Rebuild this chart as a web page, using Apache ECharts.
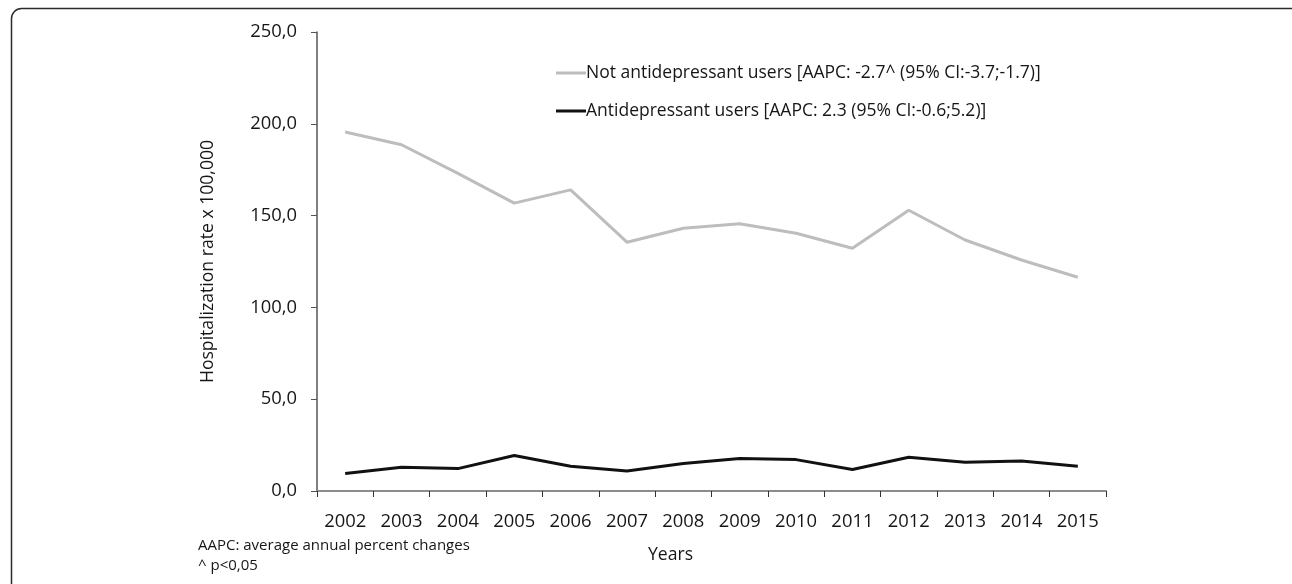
<!DOCTYPE html>
<html>
<head>
<meta charset="utf-8">
<script src="https://cdn.jsdelivr.net/npm/echarts@6/dist/echarts.min.js"></script>
<style>
  html, body { margin: 0; padding: 0; background: #fff; }
  #chart { width: 1292px; height: 584px; }
</style>
</head>
<body>
<div id="chart"></div>
<script>
// Hospitalization rates per 100,000, by year and antidepressant use
const years = ['2002', '2003', '2004', '2005', '2006', '2007', '2008',
               '2009', '2010', '2011', '2012', '2013', '2014', '2015'];
const notUsers = [195.5, 188.6, 173.0, 156.8, 164.0, 135.5, 143.1,
                  145.6, 140.4, 132.2, 152.9, 136.7, 125.8, 116.4];
const users = [9.5, 12.9, 12.2, 19.3, 13.5, 10.9, 15.0,
               17.7, 17.1, 11.7, 18.4, 15.7, 16.4, 13.5];
const seriesNames = [
  'Not antidepressant users [AAPC: -2.7^ (95% CI:-3.7;-1.7)]',
  'Antidepressant users [AAPC: 2.3 (95% CI:-0.6;5.2)]'
];
const footnotes = ['AAPC: average annual percent changes', '^ p<0,05'];

const FONT = '"Open Sans", "Noto Sans", sans-serif';
const TEXT = '#161616';
const chart = echarts.init(document.getElementById('chart'), null, { renderer: 'canvas' });

chart.setOption({
  animation: false,
  backgroundColor: '#ffffff',
  textStyle: { fontFamily: FONT },
  grid: { left: 317, right: 1292 - 1106, top: 32, bottom: 584 - 491, containLabel: false },
  legend: {
    orient: 'vertical',
    left: 551,
    top: 59,
    itemGap: 20,
    itemWidth: 30,
    itemHeight: 3,
    icon: 'rect',
    textStyle: { fontFamily: FONT, fontSize: 17.5, color: TEXT, padding: [0, 0, 0, -5] },
    data: seriesNames
  },
  xAxis: {
    type: 'category',
    data: years,
    boundaryGap: true,
    name: 'Years',
    nameLocation: 'middle',
    nameGap: 55,
    nameTextStyle: { fontFamily: FONT, fontSize: 17.6, color: TEXT, padding: [0, 82, 0, 0] },
    axisLine: { lineStyle: { color: '#8c8c8c', width: 2 } },
    axisTick: { show: true, alignWithLabel: false, length: 6, lineStyle: { color: '#333', width: 1 } },
    axisLabel: { fontFamily: FONT, fontSize: 18.4, color: TEXT, margin: 22 },
    splitLine: { show: false }
  },
  yAxis: {
    type: 'value',
    min: 0,
    max: 250,
    interval: 50,
    name: 'Hospitalization rate x 100,000',
    nameLocation: 'middle',
    nameGap: 100,
    nameRotate: 90,
    nameTextStyle: { fontFamily: FONT, fontSize: 17.6, color: TEXT },
    axisLine: { show: true, lineStyle: { color: '#555', width: 1.5 } },
    axisTick: { show: true, inside: false, length: 6, lineStyle: { color: '#555', width: 1 } },
    axisLabel: {
      fontFamily: FONT, fontSize: 18.4, color: TEXT, margin: 20,
      formatter: v => v.toFixed(1).replace('.', ',')
    },
    splitLine: { show: false }
  },
  series: [
    {
      name: seriesNames[0],
      type: 'line',
      data: notUsers,
      symbol: 'none',
      color: '#bdbdbd',
      lineStyle: { color: '#bdbdbd', width: 3 }
    },
    {
      name: seriesNames[1],
      type: 'line',
      data: users,
      symbol: 'none',
      color: '#111111',
      lineStyle: { color: '#111111', width: 3 }
    }
  ],
  graphic: [
    {
      type: 'rect',
      shape: { x: 11.5, y: 8.5, width: 1300, height: 600, r: 10 },
      style: { fill: 'none', stroke: '#2b2b2b', lineWidth: 1.5 },
      silent: true
    },
    {
      type: 'text',
      left: 198,
      top: 538,
      style: { text: footnotes[0], fontFamily: FONT, fontSize: 15, fill: TEXT }
    },
    {
      type: 'text',
      left: 198,
      top: 558,
      style: { text: footnotes[1], fontFamily: FONT, fontSize: 15, fill: TEXT }
    }
  ]
});
</script>
</body>
</html>
